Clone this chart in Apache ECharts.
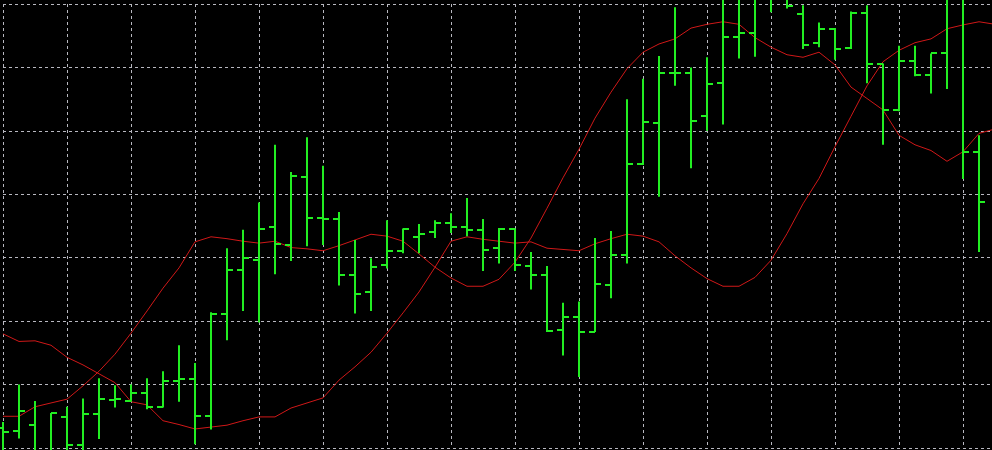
<!DOCTYPE html>
<html>
<head>
<meta charset="utf-8">
<script src="https://cdn.jsdelivr.net/npm/echarts@6/dist/echarts.min.js"></script>
<style>
    html, body { margin: 0; padding: 0; background: #000; overflow: hidden; }
    /* wider than the window: the chart runs past the right edge like a terminal window */
    #chart { width: 1030px; height: 450px; }
</style>
</head>
<body>
<div id="chart"></div>
<script>
// bar values (price), one entry per bar
const opens = [1303.2, 1302.7, 1303.6, 1298.9, 1304.9, 1300.4, 1305.3, 1307.6, 1307.4, 1308.7,
    1306.5, 1310.6, 1310.9, 1305.1, 1321.1, 1328.1, 1329.6, 1334.9, 1332.0, 1342.8,
    1336.2, 1336.1, 1327.3, 1324.6, 1328.9, 1331.1, 1333.3, 1334.1, 1335.4, 1334.9,
    1334.4, 1331.6, 1334.6, 1328.7, 1327.3, 1318.6, 1320.7, 1318.3, 1325.7, 1330.4,
    1344.7, 1351.3, 1359.2, 1359.2, 1352.4, 1357.6, 1364.8, 1365.5, 1371.1, 1371.3,
    1368.4, 1363.8, 1366.0, 1363.0, 1368.6, 1360.5, 1353.3, 1361.0, 1358.8, 1362.2,
    1371.4, 1346.7];
const highs = [1304.1, 1310.0, 1307.4, 1305.5, 1306.5, 1307.8, 1311.0, 1309.9, 1310.0, 1311.0,
    1312.1, 1316.2, 1313.4, 1321.4, 1331.5, 1334.4, 1338.7, 1347.8, 1343.5, 1349.0,
    1344.5, 1337.2, 1332.8, 1329.9, 1335.9, 1334.6, 1335.3, 1335.9, 1337.0, 1339.4,
    1336.1, 1334.7, 1334.6, 1330.9, 1328.7, 1322.9, 1323.1, 1333.1, 1334.2, 1355.0,
    1358.2, 1361.8, 1369.5, 1360.0, 1361.6, 1371.9, 1372.5, 1372.2, 1373.0, 1372.2,
    1369.8, 1367.1, 1366.2, 1368.8, 1369.8, 1360.6, 1363.4, 1363.4, 1362.2, 1373.0,
    1373.8, 1349.3];
const lows = [1298.9, 1301.5, 1298.1, 1297.8, 1298.4, 1298.7, 1301.4, 1306.4, 1307.3, 1306.1,
    1306.4, 1307.3, 1300.6, 1302.9, 1317.0, 1321.6, 1319.8, 1327.4, 1329.5, 1331.8,
    1332.0, 1325.6, 1321.2, 1321.6, 1328.3, 1330.7, 1330.7, 1333.1, 1333.9, 1333.4,
    1327.9, 1329.1, 1327.9, 1325.0, 1318.3, 1314.6, 1311.2, 1318.3, 1323.6, 1329.1,
    1344.6, 1339.6, 1357.1, 1344.1, 1350.0, 1351.0, 1361.4, 1361.7, 1368.7, 1369.3,
    1362.9, 1363.2, 1361.2, 1362.9, 1357.5, 1347.8, 1353.1, 1358.6, 1355.9, 1356.6,
    1342.4, 1330.9];
const closes = [1302.6, 1305.9, 1298.9, 1305.5, 1300.4, 1305.3, 1307.7, 1307.7, 1308.7, 1306.4,
    1310.6, 1310.9, 1305.1, 1321.1, 1328.1, 1329.9, 1334.6, 1332.1, 1342.9, 1336.2,
    1336.1, 1327.3, 1324.3, 1328.6, 1331.1, 1334.5, 1333.8, 1335.4, 1334.9, 1334.4,
    1331.2, 1334.6, 1328.9, 1327.3, 1318.4, 1320.6, 1318.3, 1325.9, 1330.4, 1344.7,
    1351.4, 1359.2, 1359.2, 1351.6, 1357.4, 1364.8, 1365.5, 1371.1, 1370.9, 1369.7,
    1363.6, 1366.0, 1362.9, 1368.6, 1360.5, 1353.3, 1361.0, 1358.8, 1362.2, 1371.4,
    1346.7, 1338.8];

// the two red indicator lines (one more point than bars, runs to the right edge)
const lineA = [1318.0, 1316.8, 1316.9, 1316.2, 1314.3, 1313.1, 1311.7, 1310.3, 1307.3, 1306.8,
    1304.3, 1303.7, 1303.0, 1303.3, 1303.6, 1304.3, 1304.9, 1304.9, 1306.3, 1307.1,
    1307.9, 1310.7, 1312.8, 1315.1, 1318.1, 1321.3, 1324.6, 1328.5, 1332.6, 1333.3,
    1332.9, 1332.6, 1332.3, 1332.5, 1331.5, 1331.3, 1331.1, 1332.2, 1333.0, 1333.7,
    1333.4, 1332.5, 1330.3, 1328.4, 1326.7, 1325.5, 1325.5, 1326.9, 1329.6, 1333.8,
    1338.5, 1342.5, 1347.5, 1352.3, 1357.1, 1360.9, 1362.7, 1363.9, 1364.5, 1366.1,
    1366.7, 1367.2, 1366.8];
const lineB = [1305.0, 1305.0, 1306.5, 1307.1, 1307.7, 1309.8, 1312.1, 1314.8, 1318.1, 1321.6,
    1325.2, 1328.4, 1332.5, 1333.3, 1333.0, 1332.6, 1332.3, 1332.6, 1331.6, 1331.4,
    1331.1, 1331.9, 1332.8, 1333.7, 1333.4, 1332.6, 1330.6, 1328.5, 1326.8, 1325.5,
    1325.5, 1326.6, 1329.3, 1333.1, 1337.8, 1342.6, 1347.1, 1352.0, 1356.1, 1359.8,
    1362.4, 1363.7, 1364.5, 1366.2, 1366.8, 1367.2, 1366.8, 1364.7, 1363.2, 1362.0,
    1361.6, 1362.4, 1360.4, 1356.9, 1355.1, 1353.3, 1349.3, 1347.8, 1346.9, 1345.2,
    1346.7, 1349.6, 1350.3];

const barColor = '#22ee22',
    lineColor = '#d01818',
    gridColor = '#b8b8c0';

const ohlcData = opens.map((o, i) => [i, o, highs[i], lows[i], closes[i]]);
const toXY = arr => arr.map((v, i) => [i, v]);

// OHLC bar: high-low stick, open tick on the left, close tick on the right
function renderBar(params, api) {
    const x = api.value(0),
        pO = api.coord([x, api.value(1)]),
        pH = api.coord([x, api.value(2)]),
        pL = api.coord([x, api.value(3)]),
        pC = api.coord([x, api.value(4)]),
        cx = Math.round(pH[0]),
        tick = 6,
        style = { stroke: barColor, lineWidth: 2 };
    return {
        type: 'group',
        children: [
            { type: 'line', shape: { x1: cx, y1: pH[1], x2: cx, y2: pL[1] }, style: style },
            { type: 'line', shape: { x1: cx - tick, y1: Math.round(pO[1]), x2: cx, y2: Math.round(pO[1]) }, style: style },
            { type: 'line', shape: { x1: cx, y1: Math.round(pC[1]), x2: cx + tick, y2: Math.round(pC[1]) }, style: style },
        ],
    };
}

const option = {
    backgroundColor: '#000000',
    animation: false,
    grid: {
        left: 3,
        right: 3, // 1024px wide: 64 bars of 16px
        top: 4,
        bottom: 2,
        outerBoundsMode: 'none',
    },
    xAxis: {
        type: 'value',
        min: 0,
        max: 64,
        interval: 4,
        axisLine: { show: false },
        axisTick: { show: false },
        axisLabel: { show: false },
        splitLine: {
            show: true,
            lineStyle: { color: gridColor, type: [3, 3], width: 1 },
        },
    },
    yAxis: {
        type: 'value',
        min: 1300,
        max: 1370,
        interval: 10,
        axisLine: { show: false },
        axisTick: { show: false },
        axisLabel: { show: false },
        splitLine: {
            show: true,
            lineStyle: { color: gridColor, type: [3, 3], width: 1 },
        },
    },
    series: [
        {
            type: 'line',
            data: toXY(lineA),
            showSymbol: false,
            clip: false,
            lineStyle: { color: lineColor, width: 1 },
            z: 2,
        },
        {
            type: 'line',
            data: toXY(lineB),
            showSymbol: false,
            clip: false,
            lineStyle: { color: lineColor, width: 1 },
            z: 2,
        },
        {
            type: 'custom',
            renderItem: renderBar,
            data: ohlcData,
            encode: { x: 0, y: [1, 2, 3, 4] },
            clip: false,
            z: 3,
        },
    ],
};

const myChart = echarts.init(document.getElementById('chart'));
myChart.setOption(option);
</script>
</body>
</html>
